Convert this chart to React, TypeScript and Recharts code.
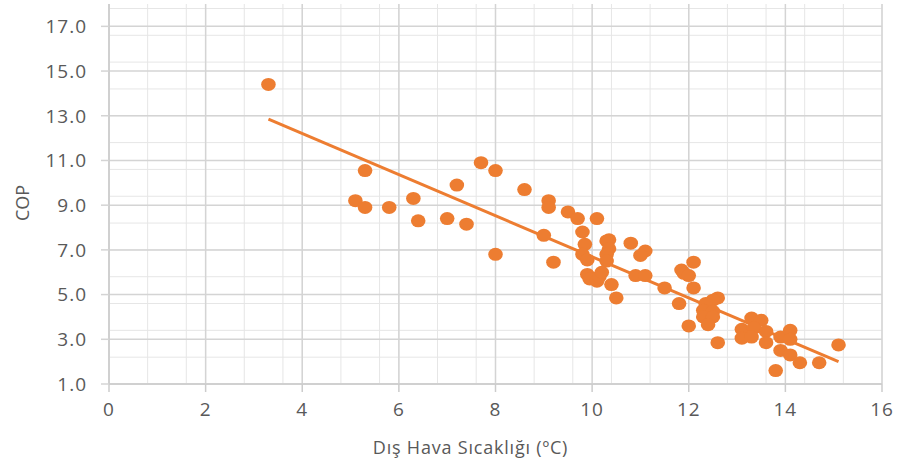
import React from "react";
import {
  CartesianGrid,
  ReferenceLine,
  Scatter,
  ScatterChart,
  XAxis,
  YAxis,
} from "recharts";

const temps = [
  3.3, 5.1, 5.3, 5.3, 5.8, 6.3, 6.4, 7.0, 7.2, 7.4, 7.7, 8.0, 8.0, 8.6, 9.0,
  9.1, 9.1, 9.2, 9.5, 9.7, 10.1, 9.8, 9.85, 9.8, 9.9, 9.9, 9.95, 10.1, 10.15,
  10.2, 10.35, 10.3, 10.35, 10.3, 10.3, 10.4, 10.5, 10.8, 11.1, 11.0, 10.9,
  11.1, 11.5, 11.8, 11.85, 12.1, 11.9, 12.0, 12.1, 12.0, 12.6, 12.6, 12.5,
  12.35, 12.3, 12.5, 12.3, 12.5, 12.4, 13.3, 13.5, 13.1, 13.35, 13.1, 13.3,
  13.6, 13.6, 13.9, 14.1, 14.1, 13.9, 14.1, 13.8, 14.3, 14.7, 15.1,
];
const cops = [
  14.4, 9.2, 10.55, 8.9, 8.9, 9.3, 8.3, 8.4, 9.9, 8.15, 10.9, 10.55, 6.8, 9.7,
  7.65, 9.2, 8.9, 6.45, 8.7, 8.4, 8.4, 7.8, 7.25, 6.8, 6.55, 5.9, 5.7, 5.6,
  5.8, 6.0, 7.45, 7.4, 7.05, 6.8, 6.5, 5.45, 4.85, 7.3, 6.95, 6.75, 5.85,
  5.85, 5.3, 4.6, 6.1, 6.45, 5.95, 5.85, 5.3, 3.6, 2.85, 4.85, 4.75, 4.6, 4.3,
  4.25, 4.0, 4.0, 3.65, 3.95, 3.85, 3.45, 3.5, 3.05, 3.1, 3.35, 2.85, 3.1,
  3.4, 3.0, 2.5, 2.3, 1.6, 1.95, 1.95, 2.75,
];

// linear trendline endpoints
const trendX = [3.3, 15.1];
const trendY = [12.85, 2.0];

const xTicks = [0, 2, 4, 6, 8, 10, 12, 14, 16];
const yTicks = [1, 3, 5, 7, 9, 11, 13, 15, 17];
const xMinor = Array.from({ length: 41 }, (_, i) => +(i * 0.4).toFixed(1));
const yMinor = Array.from({ length: 43 }, (_, i) => +(1 + i * 0.4).toFixed(1));

const points = temps.map((t, i) => ({ temp: t, cop: cops[i] }));

const ORANGE = "#ED7D31";
const TEXT = "#595959";
const FONT = "'Open Sans', sans-serif";

const Dot = (props: any) => {
  const { cx, cy } = props;
  if (cx == null || cy == null) return <g />;
  return <ellipse cx={cx} cy={cy} rx={7.3} ry={6.5} fill={ORANGE} />;
};

const YLabel = ({ viewBox }: any) => {
  const { x, y, height } = viewBox;
  const cx = x + 22;
  const cy = y + height / 2 + 9;
  return (
    <text
      x={cx}
      y={cy}
      transform={`rotate(-90, ${cx}, ${cy})`}
      textAnchor="middle"
      dominantBaseline="central"
      fill={TEXT}
      fontFamily={FONT}
      fontSize={18}
    >
      COP
    </text>
  );
};

const XLabel = ({ viewBox }: any) => {
  const { x, width } = viewBox;
  return (
    <text
      x={x + width / 2 - 25}
      y={447}
      textAnchor="middle"
      dominantBaseline="central"
      fill={TEXT}
      fontFamily={FONT}
      fontSize={18}
      letterSpacing={0.8}
    >
      Dış Hava Sıcaklığı (ºC)
    </text>
  );
};

export default function App() {
  const tick = { fill: TEXT, fontSize: 19, fontFamily: FONT, letterSpacing: 1 };
  return (
    <div style={{ position: "absolute", left: 0, top: 0, background: "#fff" }}>
      <ScatterChart
        width={898}
        height={465}
        margin={{ top: 4, right: 16, bottom: 31, left: 0 }}
      >
        <CartesianGrid
          stroke="#e6e6e6"
          strokeWidth={1}
          verticalValues={xMinor}
          horizontalValues={yMinor}
        />
        <CartesianGrid
          stroke="#d4d4d4"
          strokeWidth={1.5}
          verticalValues={xTicks}
          horizontalValues={yTicks}
          fill="none"
        />
        <XAxis
          type="number"
          dataKey="temp"
          domain={[0, 16]}
          ticks={xTicks}
          height={50}
          tick={tick}
          tickSize={8}
          tickMargin={11}
          axisLine={{ stroke: "#cccccc", strokeWidth: 1.5 }}
          tickLine={{ stroke: "#cccccc", strokeWidth: 1.5 }}
          label={<XLabel />}
        />
        <YAxis
          type="number"
          dataKey="cop"
          domain={[1, 18]}
          ticks={yTicks}
          width={109}
          tick={tick}
          tickSize={8}
          tickMargin={14}
          tickFormatter={(v: number) => v.toFixed(1)}
          axisLine={{ stroke: "#cccccc", strokeWidth: 1.5 }}
          tickLine={{ stroke: "#d4d4d4", strokeWidth: 1.5 }}
          label={<YLabel />}
        />
        <ReferenceLine
          segment={[
            { x: trendX[0], y: trendY[0] },
            { x: trendX[1], y: trendY[1] },
          ]}
          stroke={ORANGE}
          strokeWidth={3}
          ifOverflow="visible"
        />
        <Scatter
          data={points}
          shape={<Dot />}
          isAnimationActive={false}
        />
      </ScatterChart>
    </div>
  );
}
